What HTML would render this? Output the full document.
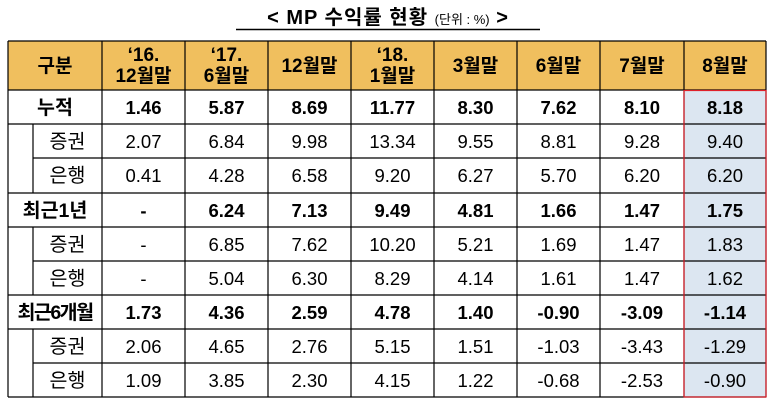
<!DOCTYPE html>
<html><head><meta charset="utf-8"><style>
body{margin:0;width:775px;height:405px;background:#fff;overflow:hidden}
svg{position:absolute;left:0;top:0;font-family:"Liberation Sans","Noto Sans CJK KR",sans-serif}
text{text-anchor:middle}
.h{font-weight:bold;font-size:19px}
.b{font-weight:bold;font-size:18.5px}
.n{font-size:18.5px}
.l{font-size:19.5px}
</style></head><body>
<svg width="775" height="405" viewBox="0 0 775 405">
<text x="388" y="24" font-size="20" font-weight="bold" letter-spacing="1">&lt; MP 수익률 현황 <tspan font-size="13" font-weight="normal" letter-spacing="0">(단위 : %)</tspan> &gt;</text>
<line x1="236" y1="29.5" x2="540" y2="29.5" stroke="#000" stroke-width="1.5"/>
<rect x="8" y="41" width="758" height="49" fill="#F0BF5E"/>
<rect x="684" y="90" width="82" height="307" fill="#DCE6F1"/>
<g stroke="#000" stroke-width="1.2">
<line x1="8" y1="41" x2="766" y2="41"/>
<line x1="8" y1="90" x2="766" y2="90"/>
<line x1="8" y1="124" x2="766" y2="124"/>
<line x1="33" y1="158" x2="766" y2="158"/>
<line x1="8" y1="193" x2="766" y2="193"/>
<line x1="8" y1="227" x2="766" y2="227"/>
<line x1="33" y1="261" x2="766" y2="261"/>
<line x1="8" y1="295" x2="766" y2="295"/>
<line x1="8" y1="329" x2="766" y2="329"/>
<line x1="33" y1="363" x2="766" y2="363"/>
<line x1="8" y1="397" x2="766" y2="397"/>
<line x1="8" y1="41" x2="8" y2="397"/>
<line x1="33" y1="124" x2="33" y2="193"/>
<line x1="33" y1="227" x2="33" y2="295"/>
<line x1="33" y1="329" x2="33" y2="397"/>
<line x1="102" y1="41" x2="102" y2="397"/>
<line x1="185" y1="41" x2="185" y2="397"/>
<line x1="268" y1="41" x2="268" y2="397"/>
<line x1="351" y1="41" x2="351" y2="397"/>
<line x1="434" y1="41" x2="434" y2="397"/>
<line x1="517" y1="41" x2="517" y2="397"/>
<line x1="600" y1="41" x2="600" y2="397"/>
<line x1="684" y1="41" x2="684" y2="397"/>
<line x1="766" y1="41" x2="766" y2="397"/>
</g>
<rect x="684" y="90.5" width="82" height="306.5" fill="none" stroke="#e0202a" stroke-width="1.2"/>
<g class="h">
<text x="55" y="72" class="h">구분</text>
<text x="143.5" y="61" class="h">‘16.</text><text x="143.5" y="82" class="h">12월말</text>
<text x="226.5" y="61" class="h">‘17.</text><text x="226.5" y="82" class="h">6월말</text>
<text x="309.5" y="72" class="h">12월말</text>
<text x="392.5" y="61" class="h">‘18.</text><text x="392.5" y="82" class="h">1월말</text>
<text x="475.5" y="72" class="h">3월말</text>
<text x="558.5" y="72" class="h">6월말</text>
<text x="642" y="72" class="h">7월말</text>
<text x="725" y="72" class="h">8월말</text>
</g>
<g class="b">
<text x="55" y="114" class="l" font-weight="bold">누적</text>
<text x="143.5" y="114">1.46</text><text x="226.5" y="114">5.87</text><text x="309.5" y="114">8.69</text><text x="392.5" y="114">11.77</text><text x="475.5" y="114">8.30</text><text x="558.5" y="114">7.62</text><text x="642" y="114">8.10</text><text x="725" y="114">8.18</text>
<text x="55" y="217" class="l" font-weight="bold">최근1년</text>
<text x="143.5" y="217">-</text><text x="226.5" y="217">6.24</text><text x="309.5" y="217">7.13</text><text x="392.5" y="217">9.49</text><text x="475.5" y="217">4.81</text><text x="558.5" y="217">1.66</text><text x="642" y="217">1.47</text><text x="725" y="217">1.75</text>
<text x="55" y="319" class="l" font-weight="bold" letter-spacing="-1.5">최근6개월</text>
<text x="143.5" y="319">1.73</text><text x="226.5" y="319">4.36</text><text x="309.5" y="319">2.59</text><text x="392.5" y="319">4.78</text><text x="475.5" y="319">1.40</text><text x="558.5" y="319">-0.90</text><text x="642" y="319">-3.09</text><text x="725" y="319">-1.14</text>
</g>
<g class="n">
<text x="67.5" y="148" class="l">증권</text>
<text x="143.5" y="148">2.07</text><text x="226.5" y="148">6.84</text><text x="309.5" y="148">9.98</text><text x="392.5" y="148">13.34</text><text x="475.5" y="148">9.55</text><text x="558.5" y="148">8.81</text><text x="642" y="148">9.28</text><text x="725" y="148">9.40</text>
<text x="67.5" y="182" class="l">은행</text>
<text x="143.5" y="182">0.41</text><text x="226.5" y="182">4.28</text><text x="309.5" y="182">6.58</text><text x="392.5" y="182">9.20</text><text x="475.5" y="182">6.27</text><text x="558.5" y="182">5.70</text><text x="642" y="182">6.20</text><text x="725" y="182">6.20</text>
<text x="67.5" y="251" class="l">증권</text>
<text x="143.5" y="251">-</text><text x="226.5" y="251">6.85</text><text x="309.5" y="251">7.62</text><text x="392.5" y="251">10.20</text><text x="475.5" y="251">5.21</text><text x="558.5" y="251">1.69</text><text x="642" y="251">1.47</text><text x="725" y="251">1.83</text>
<text x="67.5" y="285" class="l">은행</text>
<text x="143.5" y="285">-</text><text x="226.5" y="285">5.04</text><text x="309.5" y="285">6.30</text><text x="392.5" y="285">8.29</text><text x="475.5" y="285">4.14</text><text x="558.5" y="285">1.61</text><text x="642" y="285">1.47</text><text x="725" y="285">1.62</text>
<text x="67.5" y="353" class="l">증권</text>
<text x="143.5" y="353">2.06</text><text x="226.5" y="353">4.65</text><text x="309.5" y="353">2.76</text><text x="392.5" y="353">5.15</text><text x="475.5" y="353">1.51</text><text x="558.5" y="353">-1.03</text><text x="642" y="353">-3.43</text><text x="725" y="353">-1.29</text>
<text x="67.5" y="387" class="l">은행</text>
<text x="143.5" y="387">1.09</text><text x="226.5" y="387">3.85</text><text x="309.5" y="387">2.30</text><text x="392.5" y="387">4.15</text><text x="475.5" y="387">1.22</text><text x="558.5" y="387">-0.68</text><text x="642" y="387">-2.53</text><text x="725" y="387">-0.90</text>
</g>
</svg>
</body></html>
